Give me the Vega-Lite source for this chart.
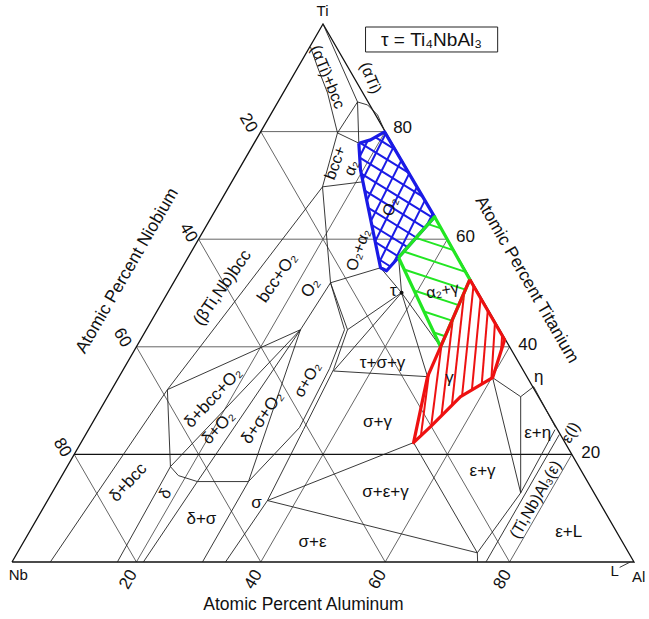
{
"$schema": "https://vega.github.io/schema/vega-lite/v6.json",
"width": 622, "height": 538, "autosize": "none",
"padding": {"left": 12, "top": 24, "right": 15, "bottom": 57},
"background": "white",
"config": {"view": {"stroke": null}, "text": {"font": "Liberation Sans, DejaVu Sans", "fontSize": 17, "baseline": "middle", "align": "center", "fill": "#111"}},
"datasets": {
"grid": [
{"id":"t40","i":0,"x":20,"t":40},{"id":"t40","i":1,"x":80,"t":40},
{"id":"t60","i":0,"x":30,"t":60},{"id":"t60","i":1,"x":70,"t":60},
{"id":"t80","i":0,"x":40,"t":80},{"id":"t80","i":1,"x":60,"t":80},
{"id":"a20","i":0,"x":20,"t":0},{"id":"a20","i":1,"x":60,"t":80},
{"id":"a40","i":0,"x":40,"t":0},{"id":"a40","i":1,"x":70,"t":60},
{"id":"a60","i":0,"x":60,"t":0},{"id":"a60","i":1,"x":80,"t":40},
{"id":"a80","i":0,"x":80,"t":0},{"id":"a80","i":1,"x":90,"t":20},
{"id":"n20","i":0,"x":80,"t":0},{"id":"n20","i":1,"x":40,"t":80},
{"id":"n40","i":0,"x":60,"t":0},{"id":"n40","i":1,"x":30,"t":60},
{"id":"n60","i":0,"x":40,"t":0},{"id":"n60","i":1,"x":20,"t":40},
{"id":"n80","i":0,"x":20,"t":0},{"id":"n80","i":1,"x":10,"t":20}
],
"frame": [
{"id":"tri","i":0,"x":0,"t":0},{"id":"tri","i":1,"x":100,"t":0},{"id":"tri","i":2,"x":50,"t":100},{"id":"tri","i":3,"x":0,"t":0},
{"id":"b20","i":0,"x":10,"t":20},{"id":"b20","i":1,"x":90,"t":20}
],
"lines": [
{"id":"k1","i":0,"x":47.99,"t":95.73},{"id":"k1","i":1,"x":49.12,"t":92.01},{"id":"k1","i":2,"x":50.73,"t":87.19},{"id":"k1","i":3,"x":52.33,"t":79.76},
{"id":"k2","i":0,"x":50,"t":100},{"id":"k2","i":1,"x":55.55,"t":85.51},
{"id":"k3","i":0,"x":55.55,"t":85.51},{"id":"k3","i":1,"x":52.33,"t":79.76},
{"id":"k4","i":0,"x":55.55,"t":85.51},{"id":"k4","i":1,"x":57.16,"t":84.96},{"id":"k4","i":2,"x":58.77,"t":83.1},{"id":"k4","i":3,"x":59.84,"t":80.32},
{"id":"k5","i":0,"x":55.55,"t":85.51},{"id":"k5","i":1,"x":55.76,"t":77.85},
{"id":"k6","i":0,"x":52.33,"t":79.76},{"id":"k6","i":1,"x":55.76,"t":77.85},
{"id":"k7","i":0,"x":52.33,"t":79.76},{"id":"k7","i":1,"x":49.92,"t":69.73},
{"id":"k8","i":0,"x":49.92,"t":69.73},{"id":"k8","i":1,"x":56.36,"t":70.66},
{"id":"bccu","i":0,"x":49.92,"t":69.73},{"id":"bccu","i":1,"x":24.98,"t":32.03},
{"id":"o2","i":0,"x":49.92,"t":69.73},{"id":"o2","i":1,"x":51.21,"t":51.9},{"id":"o2","i":2,"x":46.38,"t":43.18},
{"id":"o2a","i":0,"x":51.21,"t":51.9},{"id":"o2a","i":1,"x":59.25,"t":54.69},
{"id":"bcc","i":0,"x":6.16,"t":0},{"id":"bcc","i":1,"x":24.98,"t":32.03},
{"id":"dl","i":0,"x":16.94,"t":0},{"id":"dl","i":1,"x":25.47,"t":17.73},
{"id":"dbo","i":0,"x":24.98,"t":32.03},{"id":"dbo","i":1,"x":25.47,"t":17.73},
{"id":"du","i":0,"x":25.47,"t":17.73},{"id":"du","i":1,"x":26.75,"t":16.06},{"id":"du","i":2,"x":29.81,"t":14.95},{"id":"du","i":3,"x":38.02,"t":14.95},
{"id":"dr","i":0,"x":21.12,"t":0},{"id":"dr","i":1,"x":29.81,"t":14.95},
{"id":"f1","i":0,"x":46.38,"t":43.18},{"id":"f1","i":1,"x":24.98,"t":32.03},
{"id":"f2","i":0,"x":46.38,"t":43.18},{"id":"f2","i":1,"x":25.47,"t":17.73},
{"id":"f3","i":0,"x":46.38,"t":43.18},{"id":"f3","i":1,"x":29.81,"t":14.95},
{"id":"f4","i":0,"x":46.38,"t":43.18},{"id":"f4","i":1,"x":38.02,"t":14.95},
{"id":"sigr","i":0,"x":34.32,"t":0},{"id":"sigr","i":1,"x":41.07,"t":11.42},{"id":"sigr","i":2,"x":46.86,"t":24.61},{"id":"sigr","i":3,"x":51.69,"t":35.75},{"id":"sigr","i":4,"x":53.94,"t":43.18},{"id":"sigr","i":5,"x":51.21,"t":51.9},
{"id":"sigl","i":0,"x":30.62,"t":0},{"id":"sigl","i":1,"x":38.02,"t":14.95},{"id":"sigl","i":2,"x":46.22,"t":24.98},{"id":"sigl","i":3,"x":51.05,"t":35.93},{"id":"sigl","i":4,"x":53.46,"t":43.18},{"id":"sigl","i":5,"x":51.21,"t":51.9},
{"id":"st","i":0,"x":53.94,"t":43.18},{"id":"st","i":1,"x":62.63,"t":50.05},
{"id":"ta","i":0,"x":62.63,"t":50.05},{"id":"ta","i":1,"x":59.25,"t":54.69},
{"id":"ta2","i":0,"x":62.63,"t":50.05},{"id":"ta2","i":1,"x":62.15,"t":56.6},
{"id":"tg","i":0,"x":62.63,"t":50.05},{"id":"tg","i":1,"x":68.9,"t":40.0},
{"id":"tsg1","i":0,"x":62.63,"t":50.05},{"id":"tsg1","i":1,"x":51.69,"t":35.5},
{"id":"tsg2","i":0,"x":51.69,"t":35.5},{"id":"tsg2","i":1,"x":66.81,"t":34.45},
{"id":"tsg3","i":0,"x":62.63,"t":50.05},{"id":"tsg3","i":1,"x":66.81,"t":34.45},
{"id":"sg","i":0,"x":41.07,"t":11.42},{"id":"sg","i":1,"x":64.56,"t":22.19},
{"id":"se","i":0,"x":41.07,"t":11.42},{"id":"se","i":1,"x":74.81,"t":1.71},{"id":"se","i":2,"x":74.86,"t":0},
{"id":"ge","i":0,"x":64.56,"t":22.19},{"id":"ge","i":1,"x":74.81,"t":1.71},
{"id":"el","i":0,"x":74.81,"t":1.71},{"id":"el","i":1,"x":81.78,"t":12.85},{"id":"el","i":2,"x":87.3,"t":24.6},
{"id":"er","i":0,"x":76.2,"t":0},{"id":"er","i":1,"x":88.0,"t":23.7},
{"id":"eg1","i":0,"x":77.27,"t":34.26},{"id":"eg1","i":1,"x":81.78,"t":12.85},
{"id":"eg2","i":0,"x":77.27,"t":34.26},{"id":"eg2","i":1,"x":81.78,"t":30.73},{"id":"eg2","i":2,"x":81.78,"t":12.85},
{"id":"eta","i":0,"x":81.78,"t":30.73},{"id":"eta","i":1,"x":83.87,"t":32.59},{"id":"eta","i":2,"x":87.4,"t":25.0},
{"id":"lL","i":0,"x":97.7,"t":-1.0},{"id":"lL","i":1,"x":99.4,"t":0}
],
"tau": [{"x":62.63,"t":50.05}],
"blue": [
{"i":0,"x":55.76,"t":77.85},{"i":1,"x":57.64,"t":78.46},{"i":2,"x":59.9,"t":79.94},{"i":3,"x":67.94,"t":64.16},{"i":4,"x":60.22,"t":54.13},{"i":5,"x":59.25,"t":54.69},{"i":6,"x":56.03,"t":72.89},{"i":7,"x":55.76,"t":77.85}
],
"green": [
{"i":0,"x":62.15,"t":56.6},{"i":1,"x":67.94,"t":64.16},{"i":2,"x":73.6,"t":52.5},{"i":3,"x":68.9,"t":40.0},{"i":4,"x":62.15,"t":56.6}
],
"red": [
{"i":0,"x":73.6,"t":52.5},{"i":1,"x":79.2,"t":41.3},{"i":2,"x":77.27,"t":34.26},{"i":3,"x":72.12,"t":30.73},{"i":4,"x":67.3,"t":25.16},{"i":5,"x":64.56,"t":22.19},{"i":6,"x":66.81,"t":34.45},{"i":7,"x":68.9,"t":40.0},{"i":8,"x":73.6,"t":52.5}
],
"bh": [
{"x1":58.4,"t1":78.96,"x2":61.55,"t2":76.69},{"x1":55.97,"t1":77.92,"x2":63.79,"t2":72.31},{"x1":55.91,"t1":75.17,"x2":66.02,"t2":67.93},{"x1":56.15,"t1":72.2,"x2":67.75,"t2":63.9},{"x1":56.73,"t1":69.02,"x2":66.36,"t2":62.12},{"x1":57.29,"t1":65.83,"x2":64.98,"t2":60.32},{"x1":57.85,"t1":62.64,"x2":63.6,"t2":58.53},{"x1":58.42,"t1":59.46,"x2":62.21,"t2":56.73},{"x1":58.98,"t1":56.27,"x2":60.83,"t2":54.93},
{"x1":57.18,"t1":78.31,"x2":55.91,"t2":75.36},{"x1":60.07,"t1":79.61,"x2":56.36,"t2":71.05},{"x1":61.33,"t1":77.12,"x2":57.03,"t2":67.2},{"x1":62.6,"t1":74.65,"x2":57.71,"t2":63.4},{"x1":63.85,"t1":72.18,"x2":58.38,"t2":59.57},{"x1":65.11,"t1":69.71,"x2":59.06,"t2":55.75},{"x1":66.38,"t1":67.22,"x2":61.33,"t2":55.56},{"x1":67.63,"t1":64.75,"x2":66.65,"t2":62.49}
],
"gh": [
{"x1":67.82,"t1":42.66,"x2":69.64,"t2":41.97},{"x1":66.23,"t1":46.57,"x2":70.73,"t2":44.86},{"x1":64.64,"t1":50.47,"x2":71.81,"t2":47.74},{"x1":63.05,"t1":54.38,"x2":72.9,"t2":50.63},{"x1":62.99,"t1":57.7,"x2":72.91,"t2":53.92},{"x1":64.95,"t1":60.25,"x2":70.95,"t2":57.97},{"x1":66.9,"t1":62.81,"x2":68.98,"t2":62.01}
],
"rh": [
{"x1":67.04,"t1":35.04,"x2":65.74,"t2":23.47},{"x1":69.06,"t1":40.43,"x2":67.39,"t2":25.27},{"x1":70.88,"t1":45.28,"x2":69.05,"t2":27.19},{"x1":72.71,"t1":50.13,"x2":70.72,"t2":29.12},{"x1":74.19,"t1":51.32,"x2":72.36,"t2":30.9},{"x1":75.34,"t1":49.02,"x2":73.94,"t2":31.98},{"x1":76.49,"t1":46.72,"x2":75.52,"t2":33.05},{"x1":77.64,"t1":44.42,"x2":77.08,"t2":34.13},{"x1":78.79,"t1":42.12,"x2":78.64,"t2":39.27}
],
"box": [{"x1":56.84,"x2":78.08,"t1":99.44,"t2":94.8}],
"labels": [
{"g":"v","s":"Ti","x":49.92,"t":102.4},
{"g":"v","s":"Nb","x":1.0,"t":-2.5},
{"g":"v","s":"Al","x":100.76,"t":-2.7},
{"g":"v","s":"L","x":96.9,"t":-1.6},
{"g":"box","s":"τ = Ti₄NbAl₃","x":67.45,"t":97.03},
{"g":"tk0","s":"80","x":62.8,"t":80.69},
{"g":"tk0","s":"60","x":72.92,"t":60.45},
{"g":"tk0","s":"40","x":82.9,"t":40.39},
{"g":"tk0","s":"20","x":93.04,"t":20.33},
{"g":"tkp","s":"20","x":38.01,"t":81.61},
{"g":"tkp","s":"40","x":28.36,"t":61.19},
{"g":"tkp","s":"60","x":17.75,"t":41.69},
{"g":"tkp","s":"80","x":8.09,"t":21.26},
{"g":"tkm","s":"20","x":18.71,"t":-3.25},
{"g":"tkm","s":"40","x":38.82,"t":-3.25},
{"g":"tkm","s":"60","x":58.77,"t":-3.25},
{"g":"tkm","s":"80","x":78.88,"t":-3.25},
{"g":"tm","s":"Atomic Percent Niobium","x":18.55,"t":54.13},
{"g":"tp","s":"Atomic Percent Titanium","x":82.74,"t":52.46},
{"g":"th","s":"Atomic Percent Aluminum","x":46.86,"t":-8.08},
{"g":"p68","s":"(αTi)+bcc","x":50.73,"t":90.15},
{"g":"p68","s":"(αTi)","x":57.64,"t":89.97},
{"g":"m70","s":"bcc+","x":52.01,"t":74.19},
{"g":"m70","s":"α₂","x":54.59,"t":73.26},
{"g":"m70","s":"O₂","x":60.86,"t":66.02},
{"g":"m70","s":"O₂+α₂","x":55.71,"t":58.03},
{"g":"h","s":"τ","x":61.3,"t":50.4},
{"g":"m10","s":"α₂+γ","x":69.22,"t":50.42},
{"g":"h","s":"γ","x":70.35,"t":34.26},
{"g":"m55","s":"(βTi,Nb)bcc","x":33.83,"t":50.98},
{"g":"m55","s":"bcc+O₂","x":42.68,"t":52.83},
{"g":"m55","s":"O₂","x":47.99,"t":50.98},
{"g":"m47","s":"δ+bcc+O₂","x":32.38,"t":30.55},
{"g":"m47","s":"δ+O₂","x":33.19,"t":24.98},
{"g":"m55","s":"δ+σ+O₂","x":40.27,"t":26.83},
{"g":"m60","s":"σ+O₂","x":47.51,"t":33.89},
{"g":"h","s":"τ+σ+γ","x":59.57,"t":37.05},
{"g":"h","s":"σ+γ","x":58.77,"t":26.09},
{"g":"h","s":"σ+ε+γ","x":60.06,"t":13.09},
{"g":"h","s":"σ","x":39.3,"t":11.05},
{"g":"h","s":"δ+σ","x":30.45,"t":8.08},
{"g":"m60","s":"δ","x":24.66,"t":12.72},
{"g":"m47","s":"δ+bcc","x":18.71,"t":14.76},
{"g":"h","s":"σ+ε","x":48.31,"t":3.81},
{"g":"h","s":"ε+γ","x":75.66,"t":16.99},
{"g":"h","s":"ε+η","x":84.51,"t":24.05},
{"g":"h","s":"η","x":84.67,"t":34.45},
{"g":"m60","s":"ε(l)","x":89.82,"t":24.05},
{"g":"m60","s":"(Ti,Nb)Al₃(ε)","x":84.19,"t":11.61},
{"g":"h","s":"ε+L","x":89.5,"t":5.66}
]
},
"encoding": {},
"layer": [
{"data": {"name": "grid"}, "mark": {"type": "line", "stroke": "#555", "strokeWidth": 0.9},
 "encoding": {"x": {"field": "x", "type": "quantitative", "scale": {"domain": [0, 100], "nice": false, "zero": false}, "axis": null},
  "y": {"field": "t", "type": "quantitative", "scale": {"domain": [0, 100], "nice": false, "zero": false}, "axis": null},
  "detail": {"field": "id"}, "order": {"field": "i"}}},
{"data": {"name": "frame"}, "mark": {"type": "line", "stroke": "#111", "strokeWidth": 1.3},
 "encoding": {"x": {"field": "x", "type": "quantitative"}, "y": {"field": "t", "type": "quantitative"}, "detail": {"field": "id"}, "order": {"field": "i"}}},
{"data": {"name": "lines"}, "mark": {"type": "line", "stroke": "#222", "strokeWidth": 0.9},
 "encoding": {"x": {"field": "x", "type": "quantitative"}, "y": {"field": "t", "type": "quantitative"}, "detail": {"field": "id"}, "order": {"field": "i"}}},
{"data": {"name": "bh"}, "mark": {"type": "rule", "stroke": "#1a1ae6", "strokeWidth": 2},
 "encoding": {"x": {"field": "x1", "type": "quantitative"}, "y": {"field": "t1", "type": "quantitative"}, "x2": {"field": "x2"}, "y2": {"field": "t2"}}},
{"data": {"name": "gh"}, "mark": {"type": "rule", "stroke": "#22e622", "strokeWidth": 2},
 "encoding": {"x": {"field": "x1", "type": "quantitative"}, "y": {"field": "t1", "type": "quantitative"}, "x2": {"field": "x2"}, "y2": {"field": "t2"}}},
{"data": {"name": "rh"}, "mark": {"type": "rule", "stroke": "#ee1111", "strokeWidth": 2},
 "encoding": {"x": {"field": "x1", "type": "quantitative"}, "y": {"field": "t1", "type": "quantitative"}, "x2": {"field": "x2"}, "y2": {"field": "t2"}}},
{"data": {"name": "blue"}, "mark": {"type": "line", "stroke": "#1a1ae6", "strokeWidth": 3.2, "strokeJoin": "round"},
 "encoding": {"x": {"field": "x", "type": "quantitative"}, "y": {"field": "t", "type": "quantitative"}, "order": {"field": "i"}}},
{"data": {"name": "green"}, "mark": {"type": "line", "stroke": "#22e622", "strokeWidth": 3.2, "strokeJoin": "round"},
 "encoding": {"x": {"field": "x", "type": "quantitative"}, "y": {"field": "t", "type": "quantitative"}, "order": {"field": "i"}}},
{"data": {"name": "red"}, "mark": {"type": "line", "stroke": "#ee1111", "strokeWidth": 3.2, "strokeJoin": "round"},
 "encoding": {"x": {"field": "x", "type": "quantitative"}, "y": {"field": "t", "type": "quantitative"}, "order": {"field": "i"}}},
{"data": {"name": "tau"}, "mark": {"type": "point", "filled": true, "fill": "#111", "size": 16, "opacity": 1},
 "encoding": {"x": {"field": "x", "type": "quantitative"}, "y": {"field": "t", "type": "quantitative"}}},
{"data": {"name": "box"}, "mark": {"type": "rect", "fill": "white", "stroke": "#222", "strokeWidth": 1},
 "encoding": {"x": {"field": "x1", "type": "quantitative"}, "x2": {"field": "x2"}, "y": {"field": "t1", "type": "quantitative"}, "y2": {"field": "t2"}}},
{"data": {"name": "labels"}, "transform": [{"filter": "datum.g == 'h'"}], "mark": {"type": "text", "fontSize": 17},
 "encoding": {"x": {"field": "x", "type": "quantitative"}, "y": {"field": "t", "type": "quantitative"}, "text": {"field": "s"}}},
{"data": {"name": "labels"}, "transform": [{"filter": "datum.g == 'v'"}], "mark": {"type": "text", "fontSize": 15},
 "encoding": {"x": {"field": "x", "type": "quantitative"}, "y": {"field": "t", "type": "quantitative"}, "text": {"field": "s"}}},
{"data": {"name": "labels"}, "transform": [{"filter": "datum.g == 'box'"}], "mark": {"type": "text", "fontSize": 19},
 "encoding": {"x": {"field": "x", "type": "quantitative"}, "y": {"field": "t", "type": "quantitative"}, "text": {"field": "s"}}},
{"data": {"name": "labels"}, "transform": [{"filter": "datum.g == 'tk0'"}], "mark": {"type": "text", "fontSize": 17},
 "encoding": {"x": {"field": "x", "type": "quantitative"}, "y": {"field": "t", "type": "quantitative"}, "text": {"field": "s"}}},
{"data": {"name": "labels"}, "transform": [{"filter": "datum.g == 'tkp'"}], "mark": {"type": "text", "fontSize": 17, "angle": 60},
 "encoding": {"x": {"field": "x", "type": "quantitative"}, "y": {"field": "t", "type": "quantitative"}, "text": {"field": "s"}}},
{"data": {"name": "labels"}, "transform": [{"filter": "datum.g == 'tkm'"}], "mark": {"type": "text", "fontSize": 17, "angle": -60},
 "encoding": {"x": {"field": "x", "type": "quantitative"}, "y": {"field": "t", "type": "quantitative"}, "text": {"field": "s"}}},
{"data": {"name": "labels"}, "transform": [{"filter": "datum.g == 'm60'"}], "mark": {"type": "text", "fontSize": 16, "angle": -60},
 "encoding": {"x": {"field": "x", "type": "quantitative"}, "y": {"field": "t", "type": "quantitative"}, "text": {"field": "s"}}},
{"data": {"name": "labels"}, "transform": [{"filter": "datum.g == 'p68'"}], "mark": {"type": "text", "fontSize": 16, "angle": 68},
 "encoding": {"x": {"field": "x", "type": "quantitative"}, "y": {"field": "t", "type": "quantitative"}, "text": {"field": "s"}}},
{"data": {"name": "labels"}, "transform": [{"filter": "datum.g == 'm70'"}], "mark": {"type": "text", "fontSize": 16, "angle": -70},
 "encoding": {"x": {"field": "x", "type": "quantitative"}, "y": {"field": "t", "type": "quantitative"}, "text": {"field": "s"}}},
{"data": {"name": "labels"}, "transform": [{"filter": "datum.g == 'm10'"}], "mark": {"type": "text", "fontSize": 16, "angle": -10},
 "encoding": {"x": {"field": "x", "type": "quantitative"}, "y": {"field": "t", "type": "quantitative"}, "text": {"field": "s"}}},
{"data": {"name": "labels"}, "transform": [{"filter": "datum.g == 'm55'"}], "mark": {"type": "text", "fontSize": 17, "angle": -55},
 "encoding": {"x": {"field": "x", "type": "quantitative"}, "y": {"field": "t", "type": "quantitative"}, "text": {"field": "s"}}},
{"data": {"name": "labels"}, "transform": [{"filter": "datum.g == 'm47'"}], "mark": {"type": "text", "fontSize": 17, "angle": -47},
 "encoding": {"x": {"field": "x", "type": "quantitative"}, "y": {"field": "t", "type": "quantitative"}, "text": {"field": "s"}}},
{"data": {"name": "labels"}, "transform": [{"filter": "datum.g == 'tm'"}], "mark": {"type": "text", "angle": -60, "fontSize": 17.5},
 "encoding": {"x": {"field": "x", "type": "quantitative"}, "y": {"field": "t", "type": "quantitative"}, "text": {"field": "s"}}},
{"data": {"name": "labels"}, "transform": [{"filter": "datum.g == 'tp'"}], "mark": {"type": "text", "angle": 60, "fontSize": 17.5},
 "encoding": {"x": {"field": "x", "type": "quantitative"}, "y": {"field": "t", "type": "quantitative"}, "text": {"field": "s"}}},
{"data": {"name": "labels"}, "transform": [{"filter": "datum.g == 'th'"}], "mark": {"type": "text", "fontSize": 17.5},
 "encoding": {"x": {"field": "x", "type": "quantitative"}, "y": {"field": "t", "type": "quantitative"}, "text": {"field": "s"}}}
]
}
